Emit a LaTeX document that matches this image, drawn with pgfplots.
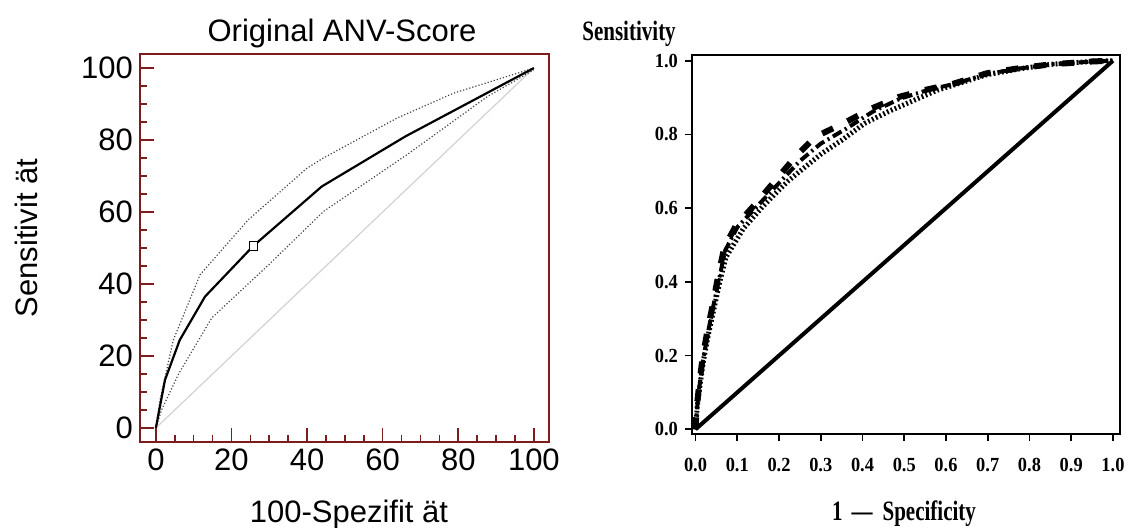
\documentclass[border=0pt]{standalone}
\usepackage{pgfplots}
\pgfplotsset{compat=1.18}
\usepackage{fontspec}
\setmainfont{Liberation Sans}
\newfontfamily\tickserif[FakeStretch=0.92]{Liberation Serif}
\newfontfamily\condserif[FakeStretch=0.75]{Liberation Serif}
\definecolor{maroon}{RGB}{125,28,28}
\begin{document}
\begin{tikzpicture}
% ---------------- left panel ----------------
\begin{axis}[
  at={(70pt,42.5pt)}, anchor=south west, scale only axis,
  width=204.5pt, height=194pt,
  xmin=-4.2, xmax=104, ymin=-3.9, ymax=103.9,
  xtick={0,20,40,60,80,100}, ytick={0,20,40,60,80,100},
  minor tick num=3,
  tick align=inside, xtick pos=bottom, ytick pos=left,
  major tick length=7pt, minor tick length=3.5pt,
  axis line style={maroon, line width=0.8pt},
  tick style={maroon, line width=0.8pt},
  ticklabel style={font=\fontsize{15.5}{18}\selectfont},
  /pgf/number format/assume math mode=true,
]
\addplot[gray!35, line width=0.6pt] coordinates {(0,0) (100,100)};
\addplot[densely dotted, gray!55!black, line width=0.6pt] coordinates {
(0,0) (1.1,7.8) (4.6,24.4) (11.7,42.6) (24.5,57.9) (40,72.2) (44.3,75) (63.8,86.1) (78.7,93) (100,100)};
\addplot[densely dotted, gray!55!black, line width=0.6pt] coordinates {
(0,0) (1.5,5) (6,15) (14.8,30.6) (30,45.5) (44.4,60.2) (66.4,75.9) (87.6,92) (100,99.5)};
\addplot[black, line width=1.1pt] coordinates {
(0,0) (2.4,13.3) (6.3,24.4) (13,36.5) (25.8,50.6) (43.9,67.1) (66,81) (100,100)};
\addplot[only marks, mark=square*, mark size=2.2pt,
  mark options={fill=white, draw=black, line width=0.5pt}] coordinates {(25.8,50.6)};
\end{axis}
% ---------------- right panel ----------------
\begin{axis}[
  at={(346pt,46.75pt)}, anchor=south west, scale only axis,
  width=214pt, height=189.25pt,
  xmin=-0.0084, xmax=1.0168, ymin=-0.0114, ymax=1.0155,
  xtick={0,0.1,0.2,0.3,0.4,0.5,0.6,0.7,0.8,0.9,1.0},
  xticklabels={0.0,0.1,0.2,0.3,0.4,0.5,0.6,0.7,0.8,0.9,1.0},
  ytick={0,0.2,0.4,0.6,0.8,1.0},
  yticklabels={0.0,0.2,0.4,0.6,0.8,1.0},
  tick align=outside, xtick pos=bottom, ytick pos=left,
  major tick length=3.5pt,
  axis line style={black, line width=1pt},
  tick style={black, line width=0.9pt},
  ticklabel style={font=\tickserif\bfseries\fontsize{10}{12}\selectfont},
  xticklabel style={yshift=-5.5pt},
  yticklabel style={xshift=0pt},
]
\addplot[black, line width=2pt] coordinates {(0,0) (1,1)};
\addplot[black, line width=3pt, dash pattern=on 6pt off 8pt] coordinates {
(0,0) (0.003,0.06) (0.008,0.113) (0.016,0.186) (0.027,0.258) (0.040,0.331) (0.053,0.408)
(0.069,0.494) (0.097,0.553) (0.144,0.612) (0.191,0.675) (0.239,0.739) (0.286,0.793)
(0.354,0.830) (0.421,0.870) (0.488,0.902) (0.555,0.922) (0.619,0.938) (0.698,0.966)
(0.777,0.980) (0.85,0.99) (0.95,0.998) (1,1)};
\addplot[black, line width=2.5pt, dash pattern=on 0.9pt off 1.2pt] coordinates {
(0,0) (0.004,0.06) (0.010,0.113) (0.019,0.186) (0.031,0.258) (0.045,0.331) (0.058,0.400)
(0.073,0.467) (0.115,0.545) (0.160,0.603) (0.191,0.639) (0.223,0.675) (0.263,0.712)
(0.302,0.748) (0.350,0.784) (0.405,0.830) (0.460,0.861) (0.524,0.893) (0.579,0.920)
(0.698,0.962) (0.777,0.978) (0.85,0.99) (0.95,0.998) (1,1)};
\addplot[black, line width=2pt, dash pattern=on 5pt off 2pt on 1pt off 2pt] coordinates {
(0,0) (0.004,0.06) (0.009,0.113) (0.018,0.186) (0.029,0.258) (0.042,0.331) (0.056,0.405)
(0.071,0.485) (0.100,0.548) (0.150,0.608) (0.200,0.668) (0.250,0.728) (0.300,0.775)
(0.360,0.815) (0.425,0.862) (0.490,0.897) (0.555,0.920) (0.619,0.937) (0.698,0.964)
(0.777,0.979) (0.85,0.99) (0.95,0.998) (1,1)};
\end{axis}
% ---------------- texts ----------------
\node[anchor=base] at (171pt,243pt) {\fontsize{15.5}{18}\selectfont Original ANV-Score};
\node[anchor=base, rotate=90] at (18.5pt,144.5pt) {\fontsize{15.5}{18}\selectfont Sensitivit ät};
\node[anchor=base] at (174.5pt,2.5pt) {\fontsize{15.5}{18}\selectfont 100-Spezifit ät};
\node[anchor=base west, inner sep=0pt] at (291pt,243.5pt) {\condserif\bfseries\fontsize{14}{16}\selectfont Sensitivity};
\node[anchor=base] at (452pt,3.5pt) {\condserif\bfseries\fontsize{14}{16}\selectfont 1\hspace{4.5pt}—\hspace{5pt}Specificity};
\pgfresetboundingbox
\path (0,0) rectangle (566pt,263.5pt);
\end{tikzpicture}
\end{document}
